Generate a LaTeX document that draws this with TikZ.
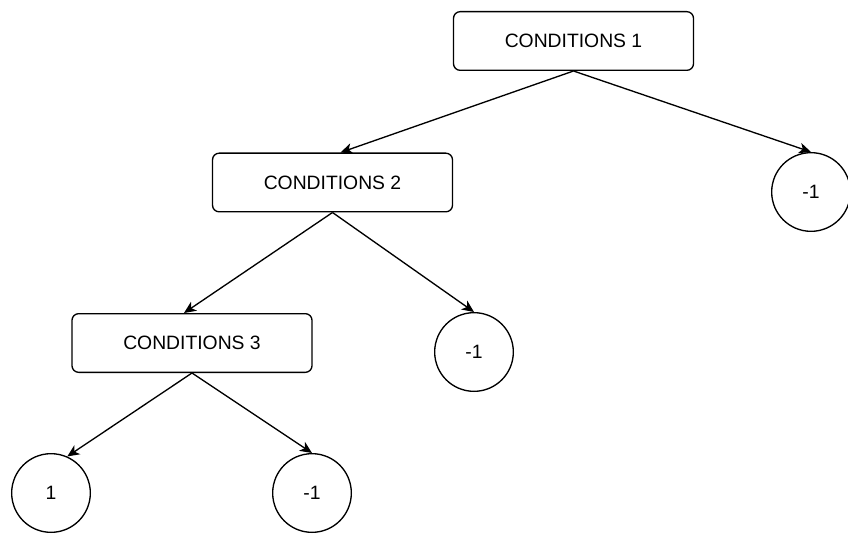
\documentclass[tikz,border=0pt]{standalone}
\usepackage{fontspec}
\setmainfont{Liberation Sans}
\usetikzlibrary{positioning, arrows.meta, shapes}

\begin{document}
\begin{tikzpicture}[
    x=0.75pt, y=-0.75pt,
    cond/.style={rectangle, rounded corners=5pt, draw, line width=1pt, minimum width=180pt, minimum height=44pt, font=\fontsize{14.5}{17}\selectfont},
    leaf/.style={circle, draw, line width=1pt, minimum size=59pt, inner sep=0pt, font=\fontsize{14.5}{17}\selectfont},
    arrow/.style={-{Stealth[length=9pt, width=8pt, inset=2.5pt]}, line width=1pt}
]
    \useasboundingbox (0,0) rectangle (848,534);

    % Conditions
    \node[cond] (cond1) at (573.5,41) {CONDITIONS 1};
    \node[cond] (cond2) at (332.5,182.5) {CONDITIONS 2};
    \node[cond] (cond3) at (192,343) {CONDITIONS 3};

    % Leaves
    \node[leaf] (leafR) at (811,192) {-1};
    \node[leaf] (leafM) at (474,352) {-1};
    \node[leaf] (leafA) at (51,493) {1};
    \node[leaf] (leafB) at (312,493) {-1};

    \draw[arrow] (cond1.south) -- ([xshift=6pt]cond2.north);
    \draw[arrow] (cond1.south) -- (leafR.north);
    \draw[arrow] (cond2.south) -- ([xshift=-6pt]cond3.north);
    \draw[arrow] (cond2.south) -- (leafM.north);
    \draw[arrow] (cond3.south) -- (leafA.66);
    \draw[arrow] (cond3.south) -- (leafB.north);
\end{tikzpicture}
\end{document}
